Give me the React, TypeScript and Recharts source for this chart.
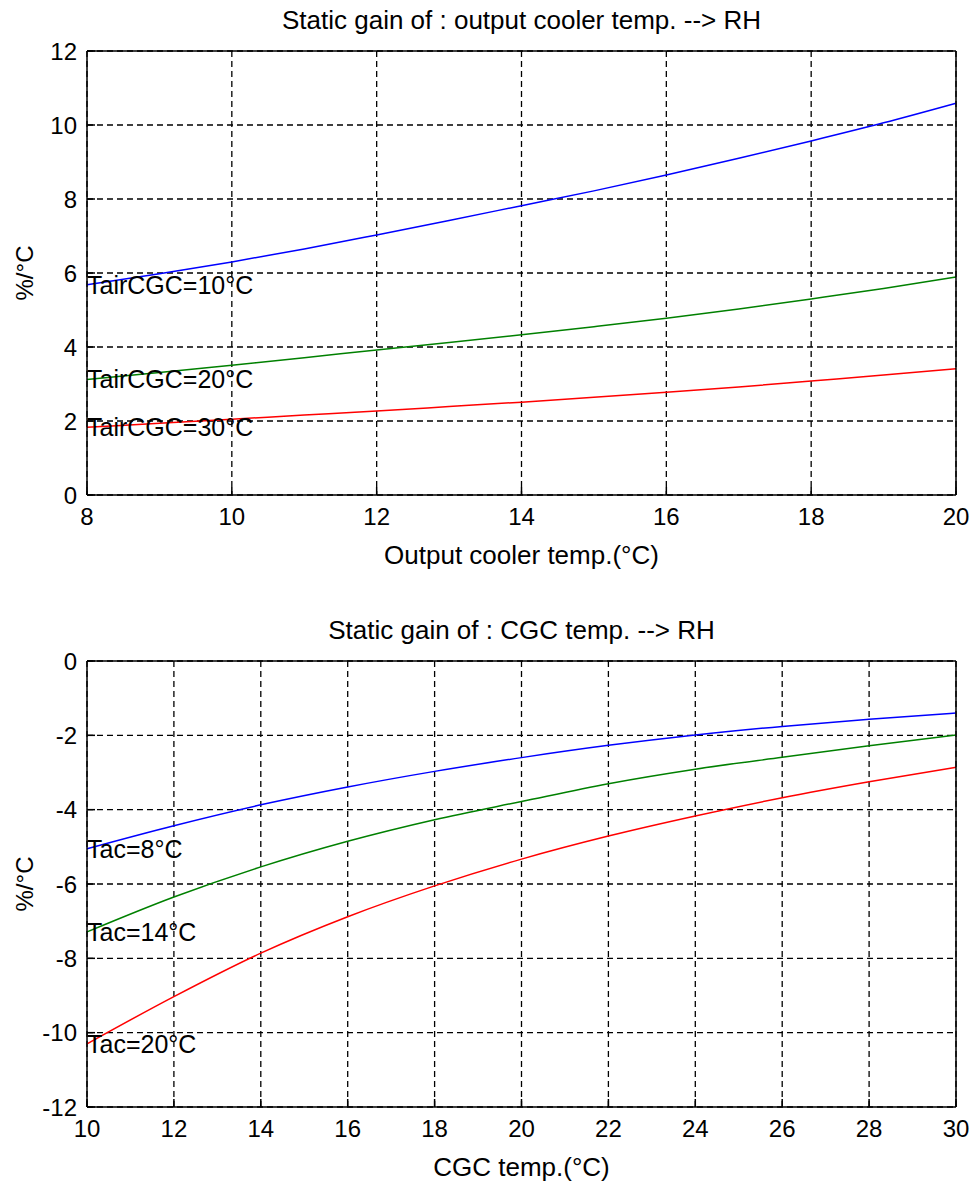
import React from 'react';
import {
  LineChart,
  Line,
  XAxis,
  YAxis,
  CartesianGrid,
  ReferenceDot,
} from 'recharts';

// top panel: output cooler temp -> RH
const coolerTemp = [8, 9, 10, 11, 12, 13, 14, 15, 16, 17, 18, 19, 20];
const gainAir10 = [5.68, 5.98, 6.3, 6.65, 7.03, 7.42, 7.82, 8.22, 8.65, 9.1, 9.57, 10.06, 10.59];
const gainAir20 = [3.12, 3.31, 3.51, 3.71, 3.92, 4.12, 4.33, 4.55, 4.78, 5.03, 5.3, 5.58, 5.89];
const gainAir30 = [1.83, 1.94, 2.05, 2.16, 2.27, 2.39, 2.51, 2.64, 2.78, 2.92, 3.08, 3.24, 3.41];
const topXTicks = [8, 10, 12, 14, 16, 18, 20];
const topYTicks = [0, 2, 4, 6, 8, 10, 12];

// bottom panel: CGC temp -> RH
const cgcTemp = [10, 12, 14, 16, 18, 20, 22, 24, 26, 28, 30];
const gainTac8 = [-5.05, -4.43, -3.87, -3.39, -2.97, -2.6, -2.27, -1.99, -1.76, -1.57, -1.4];
const gainTac14 = [-7.29, -6.35, -5.54, -4.85, -4.27, -3.78, -3.3, -2.91, -2.59, -2.28, -1.99];
const gainTac20 = [-10.3, -9.03, -7.86, -6.88, -6.05, -5.33, -4.71, -4.17, -3.68, -3.25, -2.86];
const botXTicks = [10, 12, 14, 16, 18, 20, 22, 24, 26, 28, 30];
const botYTicks = [-12, -10, -8, -6, -4, -2, 0];

const topData = coolerTemp.map((x, i) => ({ x, a: gainAir10[i], b: gainAir20[i], c: gainAir30[i] }));
const botData = cgcTemp.map((x, i) => ({ x, a: gainTac8[i], b: gainTac14[i], c: gainTac20[i] }));

const FONT = '"Liberation Sans", Arial, sans-serif';
const tickStyle = { fill: '#000', fontSize: 24, fontFamily: FONT };
const axisStroke = { stroke: '#000', strokeWidth: 1.5 };

const curveLabel = (text: string) => ({
  value: text,
  position: 'right' as const,
  offset: 0,
  fill: '#000',
  fontSize: 25,
  fontFamily: FONT,
});

interface PanelProps {
  data: { x: number; a: number; b: number; c: number }[];
  xTicks: number[];
  yTicks: number[];
  height: number;
  topH: number;
  bottomH: number;
  title: string;
  titleOffset: number;
  xLabel: string;
  xLabelOffset: number;
  names: string[];
}

const Panel: React.FC<PanelProps> = ({
  data, xTicks, yTicks, height, topH, bottomH, title, titleOffset, xLabel, xLabelOffset, names,
}) => {
  const xDom = [xTicks[0], xTicks[xTicks.length - 1]];
  const yDom = [yTicks[0], yTicks[yTicks.length - 1]];
  const first = data[0];
  return (
    <LineChart width={971} height={height} data={data} margin={{ top: 0, right: 0, left: 0, bottom: 0 }}>
      <CartesianGrid stroke="#000" strokeDasharray="6 4" strokeWidth={1.3} />
      <XAxis
        dataKey="x"
        type="number"
        domain={xDom}
        ticks={xTicks}
        interval={0}
        height={bottomH}
        tickSize={-8}
        tickMargin={21}
        tick={tickStyle}
        axisLine={axisStroke}
        tickLine={axisStroke}
        label={{ value: xLabel, position: 'insideBottom', offset: xLabelOffset, fill: '#000', fontSize: 26, fontFamily: FONT }}
      />
      <XAxis
        xAxisId="top"
        orientation="top"
        dataKey="x"
        type="number"
        domain={xDom}
        ticks={xTicks}
        interval={0}
        height={topH}
        tickSize={-8}
        tick={false}
        axisLine={axisStroke}
        tickLine={axisStroke}
        label={{ value: title, position: 'insideTop', offset: titleOffset, fill: '#000', fontSize: 26, fontFamily: FONT }}
      />
      <YAxis
        type="number"
        domain={yDom}
        ticks={yTicks}
        interval={0}
        width={87}
        tickSize={-8}
        tickMargin={18}
        tick={tickStyle}
        axisLine={axisStroke}
        tickLine={axisStroke}
        label={{
          value: '%/°C',
          angle: -90,
          position: 'insideLeft',
          offset: 24,
          fill: '#000',
          fontSize: 24,
          fontFamily: FONT,
          style: { textAnchor: 'middle' },
        }}
      />
      <YAxis
        yAxisId="right"
        orientation="right"
        type="number"
        domain={yDom}
        ticks={yTicks}
        interval={0}
        width={15}
        tickSize={-8}
        tick={false}
        axisLine={axisStroke}
        tickLine={axisStroke}
      />
      <Line type="monotone" dataKey="a" stroke="#0000ff" strokeWidth={1.5} dot={false} isAnimationActive={false} />
      <Line type="monotone" dataKey="b" stroke="#008000" strokeWidth={1.5} dot={false} isAnimationActive={false} />
      <Line type="monotone" dataKey="c" stroke="#ff0000" strokeWidth={1.5} dot={false} isAnimationActive={false} />
      <ReferenceDot x={first.x} y={first.a} r={0} stroke="none" label={curveLabel(names[0])} />
      <ReferenceDot x={first.x} y={first.b} r={0} stroke="none" label={curveLabel(names[1])} />
      <ReferenceDot x={first.x} y={first.c} r={0} stroke="none" label={curveLabel(names[2])} />
    </LineChart>
  );
};

export default function App() {
  return (
    <div style={{ position: 'absolute', left: 0, top: 0, width: 971, height: 1181, background: '#fff', fontFamily: FONT }}>
      <Panel
        data={topData}
        xTicks={topXTicks}
        yTicks={topYTicks}
        height={600}
        topH={51}
        bottomH={105}
        title="Static gain of : output cooler temp. --> RH"
        titleOffset={11}
        xLabel="Output cooler temp.(°C)"
        xLabelOffset={36}
        names={['TairCGC=10°C', 'TairCGC=20°C', 'TairCGC=30°C']}
      />
      <Panel
        data={botData}
        xTicks={botXTicks}
        yTicks={botYTicks}
        height={581}
        topH={61}
        bottomH={74}
        title="Static gain of : CGC temp. --> RH"
        titleOffset={21}
        xLabel="CGC temp.(°C)"
        xLabelOffset={5}
        names={['Tac=8°C', 'Tac=14°C', 'Tac=20°C']}
      />
    </div>
  );
}
